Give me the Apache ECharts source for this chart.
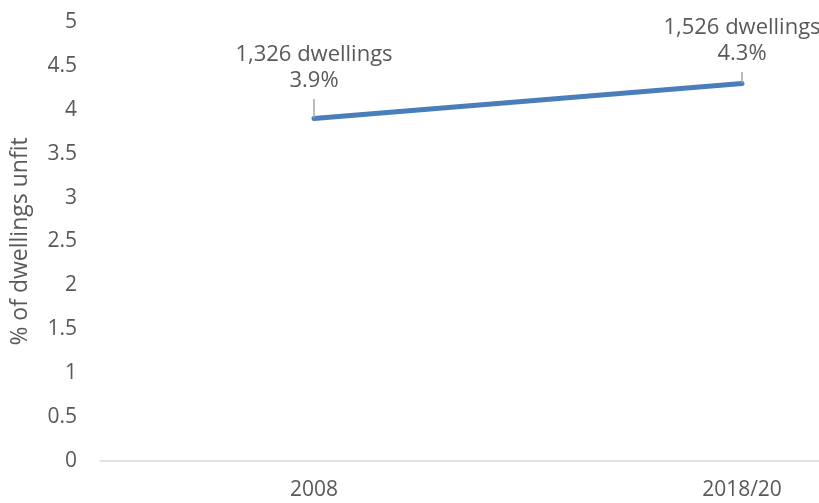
<!DOCTYPE html>
<html>
<head>
<meta charset="utf-8">
<script src="https://cdn.jsdelivr.net/npm/echarts@6/dist/echarts.min.js"></script>
<style>
  html, body { margin: 0; padding: 0; background: #fff; overflow: hidden; }
  /* the plot continues past the right edge of the window */
  #chart { width: 956px; height: 503px; }
</style>
</head>
<body>
<div id="chart"></div>
<script>
// Share of dwellings judged unfit, by survey period
const periods = ['2008', '2018/20'];
const unfitPct = [3.9, 4.3];
const dwellingCounts = ['1,326', '1,526'];
const yTicks = { min: 0, max: 5, step: 0.5 };

const FONT = '"Open Sans", sans-serif';
const TEXT = '#595959';

const chart = echarts.init(document.getElementById('chart'));
chart.setOption({
  animation: false,
  grid: { left: 100, right: 0, top: 22, bottom: 42 },
  xAxis: {
    type: 'category',
    data: periods,
    boundaryGap: true,
    axisLine: { lineStyle: { color: '#d9d9d9', width: 1.5 } },
    axisTick: { show: false },
    axisLabel: { color: TEXT, fontFamily: FONT, fontSize: 21, margin: 19 }
  },
  yAxis: {
    type: 'value',
    min: yTicks.min,
    max: yTicks.max,
    interval: yTicks.step,
    name: '% of dwellings unfit',
    nameLocation: 'middle',
    nameGap: 68,
    nameTextStyle: { color: TEXT, fontFamily: FONT, fontSize: 23 },
    axisLine: { show: false },
    axisTick: { show: false },
    splitLine: { show: false },
    axisLabel: { color: TEXT, fontFamily: FONT, fontSize: 21, margin: 23 }
  },
  series: [{
    type: 'line',
    data: unfitPct,
    symbol: 'circle',
    symbolSize: 1,
    showSymbol: true,
    itemStyle: { color: '#4a7ebb' },
    lineStyle: { color: '#4a7ebb', width: 5, cap: 'round' },
    label: {
      show: true,
      position: 'top',
      distance: 0,
      color: TEXT,
      fontFamily: FONT,
      fontSize: 22,
      lineHeight: 26,
      align: 'center',
      // bottom padding leaves a gap between the text and its leader line
      padding: [0, 0, 5, 0],
      formatter: p => dwellingCounts[p.dataIndex] + ' dwellings\n' + p.value + '%'
    },
    labelLine: { show: true, lineStyle: { color: '#a6a6a6', width: 1.5 } },
    labelLayout: p => ({ dy: p.dataIndex === 0 ? -19 : -11 })
  }]
});
</script>
</body>
</html>
